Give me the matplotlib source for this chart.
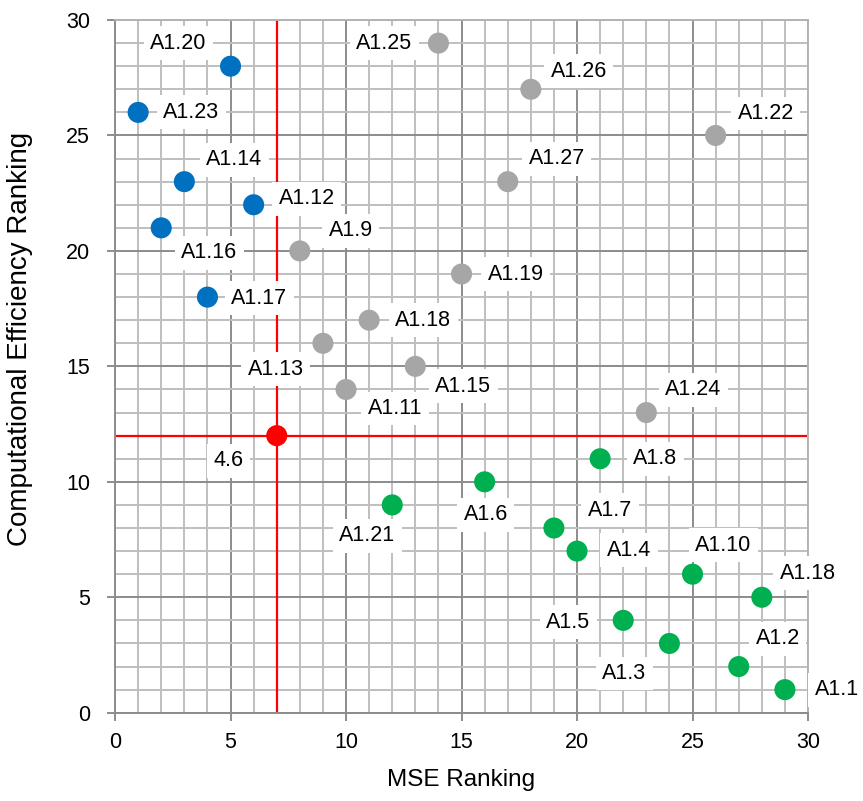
import matplotlib.pyplot as plt
from matplotlib.ticker import MultipleLocator

plt.rcParams['font.family'] = ['Liberation Sans', 'DejaVu Sans']

# MSE ranking (x), computational efficiency ranking (y), labels
blue_x = [5, 1, 3, 6, 2, 4]
blue_y = [28, 26, 23, 22, 21, 18]
blue_lbl = ["A1.20", "A1.23", "A1.14", "A1.12", "A1.16", "A1.17"]

gray_x = [14, 18, 26, 17, 8, 15, 11, 9, 13, 10, 23]
gray_y = [29, 27, 25, 23, 20, 19, 17, 16, 15, 14, 13]
gray_lbl = ["A1.25", "A1.26", "A1.22", "A1.27", "A1.9", "A1.19",
            "A1.18", "A1.13", "A1.15", "A1.11", "A1.24"]

green_x = [21, 16, 12, 19, 20, 25, 28, 22, 24, 27, 29]
green_y = [11, 10, 9, 8, 7, 6, 5, 4, 3, 2, 1]
green_lbl = ["A1.8", "A1.6", "A1.21", "A1.7", "A1.4", "A1.10",
             "A1.18", "A1.5", "A1.3", "A1.2", "A1.1"]

ref_x = [7]
ref_y = [12]
ref_lbl = ["4.6"]

# label offsets from each point, in pixels
blue_off = [(-52, 23), (53, 0), (50, 22), (53, 6), (48, -25), (52, -1)]
gray_off = [(-54, 0), (48, 18), (50, 22), (49, 23), (51, 20), (54, 0),
            (54, 0), (-47, -26), (48, -20), (49, -19), (47, 23)]
green_off = [(55, 0), (1, -33), (-25, -31), (56, 18), (52, 1), (31, 29),
             (46, 24), (-55, -2), (-45, -30), (39, 28), (52, 0)]
ref_off = [(-48, -25)]

fig = plt.figure(figsize=(8.63, 8.01), dpi=100)
ax = fig.add_axes([0.1333, 0.1102, 0.8030, 0.8648])

ax.set_xlim(0, 30)
ax.set_ylim(0, 30)
ax.xaxis.set_major_locator(MultipleLocator(5))
ax.yaxis.set_major_locator(MultipleLocator(5))
ax.xaxis.set_minor_locator(MultipleLocator(1))
ax.yaxis.set_minor_locator(MultipleLocator(1))
ax.grid(which='minor', color='#bfbfbf', linewidth=1.4)
ax.grid(which='major', color='#8c8c8c', linewidth=1.4)
ax.set_axisbelow(True)
ax.tick_params(which='major', direction='out', length=6, width=1.4,
               color='#8c8c8c', labelsize=15.5)
ax.tick_params(axis='x', which='major', pad=8)
ax.tick_params(axis='y', which='major', pad=12)
ax.tick_params(which='minor', length=0)
for s in ['left', 'bottom']:
    ax.spines[s].set_color('#8c8c8c')
    ax.spines[s].set_linewidth(1.4)
for s in ['top', 'right']:
    ax.spines[s].set_color('#b3b3b3')
    ax.spines[s].set_linewidth(1.4)

ax.axvline(ref_x[0], color='#ff0000', linewidth=1.6, zorder=2)
ax.axhline(ref_y[0], color='#ff0000', linewidth=1.6, zorder=2)

groups = [
    (blue_x, blue_y, blue_lbl, blue_off, '#0070c0'),
    (gray_x, gray_y, gray_lbl, gray_off, '#a6a6a6'),
    (green_x, green_y, green_lbl, green_off, '#00b050'),
    (ref_x, ref_y, ref_lbl, ref_off, '#ff0000'),
]
for xs, ys, lbls, offs, col in groups:
    ax.scatter(xs, ys, s=230, color=col, edgecolors='none', zorder=3)
    for x, y, t, o in zip(xs, ys, lbls, offs):
        ax.annotate(t, (x, y), xytext=o, textcoords='offset pixels',
                    ha='center', va='center', fontsize=15.5, zorder=4,
                    annotation_clip=False,
                    bbox=dict(boxstyle='square,pad=0.3', fc='white', ec='none'))

ax.set_xlabel("MSE Ranking", fontsize=17.5)
ax.set_ylabel("Computational Efficiency Ranking", fontsize=20)
ax.xaxis.set_label_coords(0.5, -0.081)
ax.yaxis.set_label_coords(-0.118, 0.54)

fig.savefig("out.png", dpi=100)
